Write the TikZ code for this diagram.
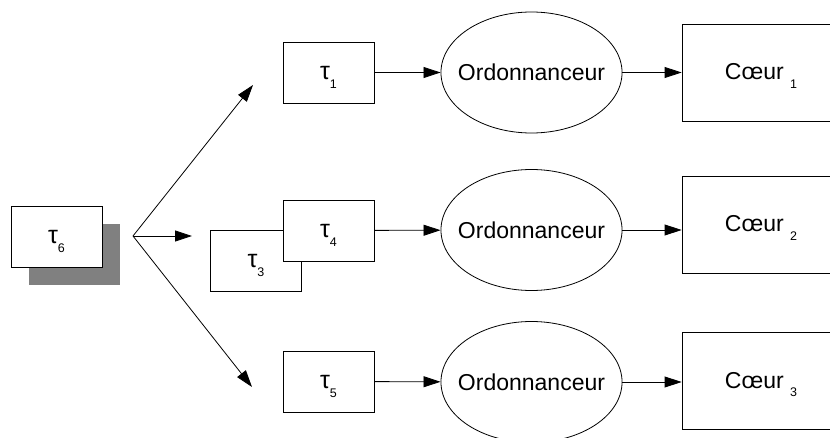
\documentclass[tikz,border=0pt]{standalone}
\usepackage{fontspec}
\setmainfont{Liberation Sans}
\usetikzlibrary{shapes.geometric, arrows.meta, shadows}
\newcommand{\idx}[1]{\raisebox{-9pt}{\fontsize{12.5}{14}\selectfont #1}}
\tikzset{
    task/.style={
        rectangle,
        draw=black,
        line width=0.8pt,
        fill=white,
        minimum width=91pt,
        minimum height=61pt,
        inner sep=0pt,
        text height=14pt,
        text depth=0pt,
        font=\fontsize{25}{29}\selectfont
    },
    sched/.style={
        ellipse,
        draw=black,
        line width=0.8pt,
        minimum height=121pt,
        inner xsep=-9.5pt,
        inner ysep=0pt,
        font=\fontsize{23}{27}\selectfont
    },
    core/.style={
        rectangle,
        draw=black,
        line width=0.8pt,
        minimum width=158pt,
        minimum height=97pt,
        inner sep=0pt,
        text height=14pt,
        text depth=0pt,
        font=\fontsize{23}{27}\selectfont
    },
    arrow/.style={
        -{Triangle[length=17pt,width=11pt]},
        line width=0.8pt
    }
}
\begin{document}
\begin{tikzpicture}[x=1pt, y=-1pt]

    \useasboundingbox (0,0) rectangle (830,438);

    % Incoming task
    \node[task, drop shadow={shadow xshift=18pt, shadow yshift=-18pt, fill=black!50, opacity=1}] (t6) at (56.5,236.5) {τ\idx{6}};

    % Fork
    \coordinate (fork) at (133,236);
    \coordinate (up) at (253,85);
    \coordinate (mid) at (192,236);
    \coordinate (down) at (252,387);

    % Task queues
    \node[task] (t1) at (328.5,72.5) {τ\idx{1}};
    \node[task] (t3) at (256,260.5) {τ\idx{3}};
    \node[task] (t4) at (328.5,230.5) {τ\idx{4}};
    \node[task] (t5) at (328.5,381.5) {τ\idx{5}};

    % Schedulers
    \node[sched] (ell1) at (531.5,72.5) {Ordonnanceur};
    \node[sched] (ell2) at (531.5,230) {Ordonnanceur};
    \node[sched] (ell3) at (531.5,382) {Ordonnanceur};

    % Cores
    \node[core] (c1) at (761,72.5) {Cœur \idx{1}};
    \node[core] (c2) at (761,224.5) {Cœur \idx{2}};
    \node[core] (c3) at (761,381) {Cœur \idx{3}};

    % Dispatch arrows
    \draw[arrow] (fork) -- (up);
    \draw[arrow] (fork) -- (mid);
    \draw[arrow] (fork) -- (down);

    % Main arrows
    \draw[arrow] (t1) -- (ell1);
    \draw[arrow] (t4) -- (ell2);
    \draw[arrow] (t5) -- (ell3);
    \draw[arrow] (ell1) -- (ell1 -| c1.west);
    \draw[arrow] (ell2) -- (ell2 -| c2.west);
    \draw[arrow] (ell3) -- (ell3 -| c3.west);

\end{tikzpicture}
\end{document}
